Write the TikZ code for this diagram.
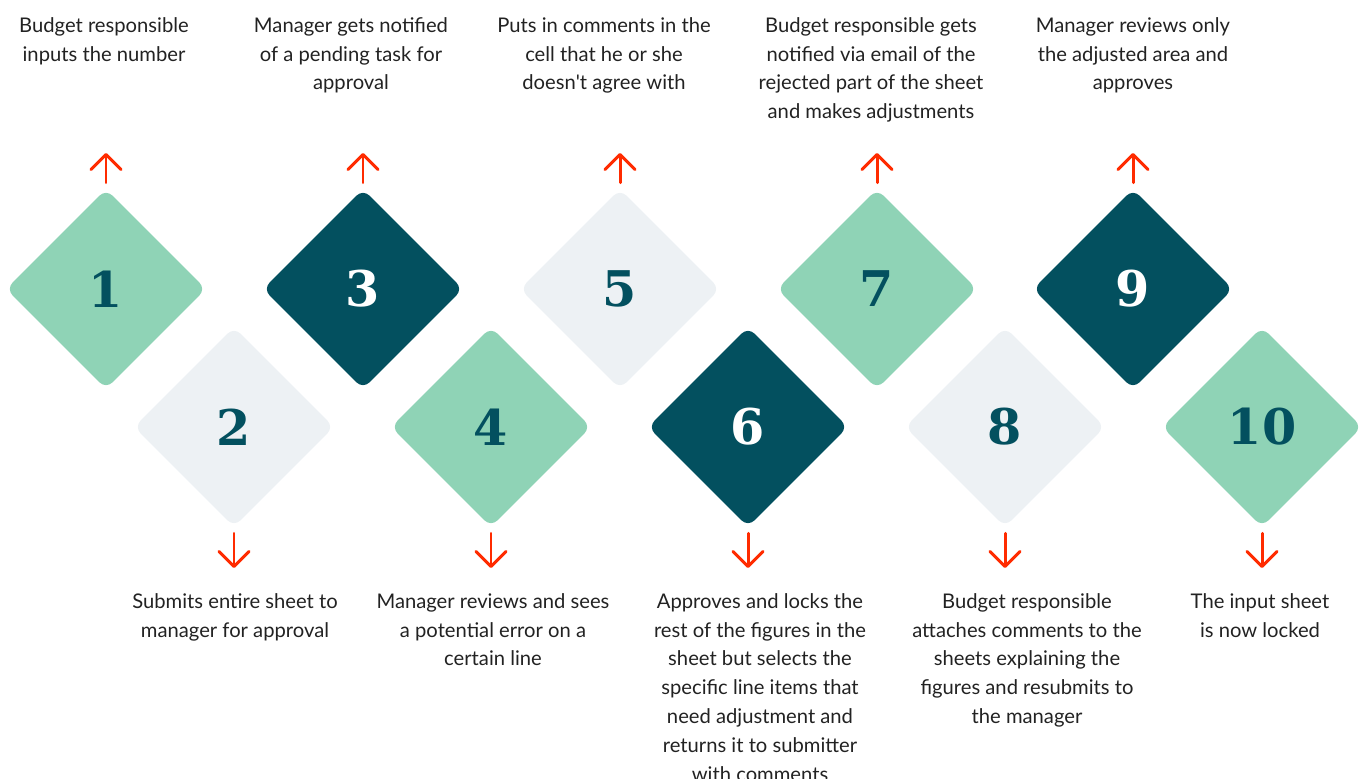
\documentclass[tikz,border=0pt]{standalone}
\usepackage{fontspec}
\setmainfont{Lato}
\newfontfamily\numfont{DejaVu Serif}
\usetikzlibrary{shapes.geometric,arrows.meta}

\definecolor{stepgreen}{HTML}{8FD3B6}
\definecolor{stepdark}{HTML}{03505F}
\definecolor{steplight}{HTML}{EDF1F4}
\definecolor{arrowred}{HTML}{FF2B00}
\definecolor{textgray}{HTML}{222222}

\tikzset{
  stepbox/.style={diamond, minimum width=4cm, minimum height=4cm, inner sep=0pt,
    rounded corners=0.18cm, font=\numfont\bfseries\fontsize{28}{28}\selectfont},
  redarrow/.style={arrowred, line width=1.7pt, line cap=round, shorten <=0.12cm,
    -{Straight Barb[length=0.3cm,width=0.6cm,round]}},
  steptext/.style={align=center, text=textgray, inner sep=0pt,
    font=\fontsize{11.5}{16.4}\selectfont}
}

\begin{document}
\begin{tikzpicture}[x=0.02cm, y=-0.02cm]

  \useasboundingbox (0,0) rectangle (1359,778);

  %upper row
  \def\dy{289};
    \foreach \k/\x/\tx/\bg/\fg/\txt in {
        1/106/104/stepgreen/stepdark/{Budget responsible\\inputs the number},
        3/363/351/stepdark/white/{Manager gets notified\\of a pending task for\\approval},
        5/620/604/steplight/stepdark/{Puts in comments in the\\cell that he or she\\doesn\textquotesingle t agree with},
        7/877/871/stepgreen/stepdark/{Budget responsible gets\\notified via email of the\\rejected part of the sheet\\and makes adjustments},
        9/1133/1133/stepdark/white/{Manager reviews only\\the adjusted area and\\approves}}{
         \node[stepbox, fill=\bg, text=\fg] (d\k) at (\x, \dy) {\k};
         \coordinate (a\k) at (\x, 153);
         \draw[redarrow] (d\k.north) -- (a\k);
         \node[steptext, anchor=north] (t\k) at (\tx, 17) {\txt};
    }

  %lower row
  \def\dy{427};
    \foreach \k/\x/\tx/\bg/\fg/\txt in {
        2/234/235/steplight/stepdark/{Submits entire sheet to\\manager for approval},
        4/491/493/stepgreen/stepdark/{Manager reviews and sees\\a potential error on a\\certain line},
        6/748/760/stepdark/white/{Approves and locks the\\rest of the figures in the\\sheet but selects the\\specific line items that\\need adjustment and\\returns it to submitter\\with comments},
        8/1005/1027/steplight/stepdark/{Budget responsible\\attaches comments to the\\sheets explaining the\\figures and resubmits to\\the manager},
        10/1262/1260/stepgreen/stepdark/{The input sheet\\is now locked}}{
         \node[stepbox, fill=\bg, text=\fg] (d\k) at (\x, \dy) {\k};
         \coordinate (a\k) at (\x, 568);
         \draw[redarrow] (d\k.south) -- (a\k);
         \node[steptext, anchor=north] (t\k) at (\tx, 593) {\txt};
    }

\end{tikzpicture}
\end{document}
